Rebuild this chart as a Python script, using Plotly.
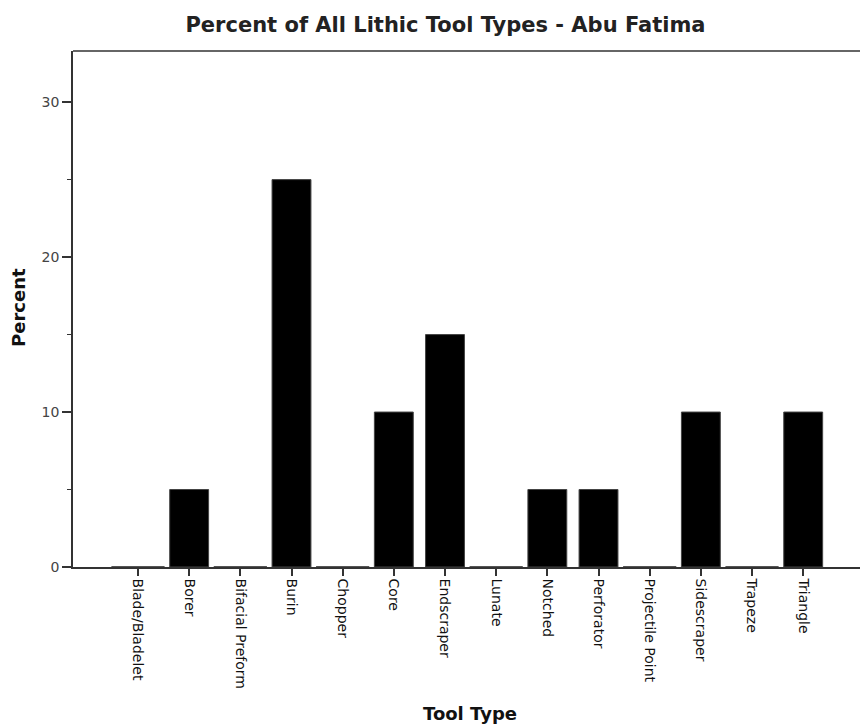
import plotly.graph_objects as go

categories = ["Blade/Bladelet", "Borer", "Bifacial Preform", "Burin", "Chopper", "Core",
              "Endscraper", "Lunate", "Notched", "Perforator", "Projectile Point",
              "Sidescraper", "Trapeze", "Triangle"]
percent = [0, 5, 0, 25, 0, 10, 15, 0, 5, 5, 0, 10, 0, 10]
y_ticks = [0, 10, 20, 30]

FONT = "DejaVu Sans"

fig = go.Figure()
fig.add_trace(go.Bar(
    x=categories, y=percent, width=0.76,
    marker=dict(color="black", line=dict(color="#444444", width=1)),
    showlegend=False,
))
zero_cats = [c for c, v in zip(categories, percent) if v == 0]
fig.add_trace(go.Scatter(
    x=zero_cats, y=[0] * len(zero_cats), mode="markers",
    marker=dict(symbol="line-ew", size=38, line=dict(color="#555555", width=2)),
    cliponaxis=False, showlegend=False, hoverinfo="skip",
))

fig.update_layout(
    width=860, height=725,
    margin=dict(l=73, r=0, t=51, b=158),
    paper_bgcolor="white", plot_bgcolor="white",
    font=dict(family=FONT, color="#222222"),
    title=dict(text="<b>Percent of All Lithic Tool Types - Abu Fatima</b>",
               x=0.518, xref="container", xanchor="center",
               y=1 - 25 / 725, yref="container", yanchor="middle",
               font=dict(size=21, family=FONT, color="#222222")),
    bargap=0.24,
)
fig.update_xaxes(
    type="category", range=[-1.27, 14.11],
    showline=True, linecolor="#333333", linewidth=1.5,
    ticks="outside", ticklen=7, tickcolor="#333333", tickwidth=1.5,
    tickangle=90, tickfont=dict(size=14, family=FONT, color="#111111"),
    showgrid=False, zeroline=False, mirror=False,
)
fig.update_yaxes(
    range=[0, 33.3], tickvals=y_ticks,
    showline=True, linecolor="#333333", linewidth=1.5,
    ticks="outside", ticklen=9, tickcolor="#333333", tickwidth=1.5,
    tickfont=dict(size=14, family=FONT, color="#444444"),
    minor=dict(tickvals=[5, 15, 25], ticks="outside", ticklen=4, tickcolor="#333333", tickwidth=1),
    showgrid=False, zeroline=False,
)
# top frame line
fig.add_shape(type="line", xref="paper", yref="paper", x0=0, x1=1, y0=1, y1=1,
              line=dict(color="#333333", width=1.5))
fig.add_annotation(text="<b>Percent</b>", xref="paper", yref="paper",
                   x=-55 / 787, y=(567 - 308) / 516, xanchor="center", yanchor="middle",
                   textangle=-90, showarrow=False,
                   font=dict(size=18, family=FONT, color="#111111"))
fig.add_annotation(text="<b>Tool Type</b>", xref="paper", yref="paper",
                   x=(470 - 73) / 787, y=-(713 - 567) / 516, xanchor="center", yanchor="middle",
                   showarrow=False,
                   font=dict(size=18, family=FONT, color="#111111"))

fig.write_html("out.html", config={"displayModeBar": False},
               post_script="document.body.style.margin='0';")
